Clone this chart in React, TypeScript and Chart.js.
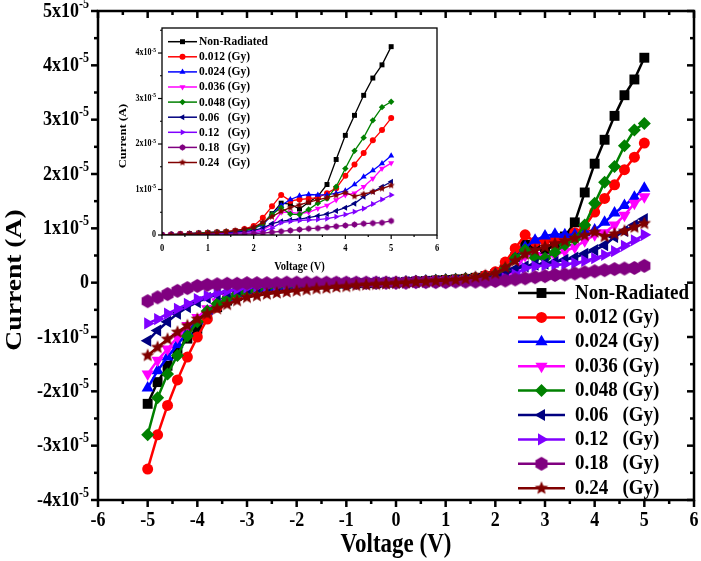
import React, { useEffect, useRef } from 'react';
import { Chart, registerables } from 'chart.js';
import { drawPoint } from 'chart.js/helpers';

Chart.register(...registerables);

const SERIF = '"Liberation Serif", "Times New Roman", Times, serif';

// Voltage (V)
const VOLTAGE = [
  -5, -4.8, -4.6, -4.4, -4.2, -4, -3.8, -3.6, -3.4, -3.2, -3, -2.8, -2.6, -2.4, -2.2, -2, -1.8, -1.6, -1.4, -1.2,
  -1, -0.8, -0.6, -0.4, -0.2, 0, 0.2, 0.4, 0.6, 0.8, 1, 1.2, 1.4, 1.6, 1.8, 2, 2.2, 2.4, 2.6, 2.8,
  3, 3.2, 3.4, 3.6, 3.8, 4, 4.2, 4.4, 4.6, 4.8, 5,
];

// Current, in units of 1x10^-5 A
const NON_RADIATED = [
  -2.23, -1.83, -1.53, -1.25, -1.03, -0.85, -0.62, -0.45, -0.33, -0.24, -0.18, -0.13, -0.10, -0.08, -0.06, -0.05, -0.04, -0.03, -0.03, -0.02,
  -0.02, -0.01, -0.01, -0.01, 0.00, 0.00, 0.01, 0.02, 0.03, 0.04, 0.05, 0.06, 0.07, 0.09, 0.12, 0.16, 0.25, 0.47, 0.70, 0.68,
  0.57, 0.72, 0.85, 1.11, 1.66, 2.19, 2.63, 3.07, 3.45, 3.74, 4.14,
];
const GY_0012 = [
  -3.43, -2.80, -2.26, -1.79, -1.37, -1.00, -0.67, -0.45, -0.32, -0.23, -0.17, -0.13, -0.10, -0.08, -0.06, -0.05, -0.04, -0.03, -0.03, -0.02,
  -0.02, -0.01, -0.01, -0.01, 0.00, 0.00, 0.01, 0.02, 0.03, 0.04, 0.05, 0.06, 0.07, 0.09, 0.13, 0.20, 0.38, 0.63, 0.88, 0.75,
  0.78, 0.80, 0.82, 0.92, 1.03, 1.30, 1.55, 1.80, 2.08, 2.31, 2.57,
];
const GY_0024 = [
  -1.94, -1.62, -1.37, -1.14, -0.91, -0.70, -0.52, -0.38, -0.28, -0.20, -0.15, -0.11, -0.09, -0.07, -0.05, -0.04, -0.03, -0.03, -0.02, -0.02,
  -0.01, -0.01, -0.01, 0.00, 0.00, 0.00, 0.01, 0.02, 0.03, 0.04, 0.05, 0.06, 0.07, 0.08, 0.11, 0.15, 0.22, 0.45, 0.65, 0.78,
  0.86, 0.89, 0.88, 0.88, 0.92, 0.97, 1.11, 1.28, 1.42, 1.57, 1.74,
];
const GY_0036 = [
  -1.68, -1.43, -1.22, -1.00, -0.79, -0.64, -0.48, -0.35, -0.26, -0.19, -0.14, -0.10, -0.08, -0.06, -0.05, -0.04, -0.03, -0.03, -0.02, -0.02,
  -0.01, -0.01, -0.01, 0.00, 0.00, 0.00, 0.01, 0.01, 0.02, 0.03, 0.03, 0.04, 0.05, 0.06, 0.07, 0.08, 0.12, 0.22, 0.50, 0.50,
  0.47, 0.50, 0.58, 0.65, 0.77, 0.88, 0.92, 1.06, 1.24, 1.46, 1.58,
];
const GY_0048 = [
  -2.80, -2.12, -1.68, -1.34, -0.98, -0.72, -0.52, -0.39, -0.29, -0.21, -0.16, -0.12, -0.09, -0.07, -0.06, -0.05, -0.04, -0.03, -0.03, -0.02,
  -0.02, -0.01, -0.01, -0.01, 0.00, 0.00, 0.01, 0.02, 0.03, 0.04, 0.05, 0.06, 0.07, 0.08, 0.10, 0.14, 0.25, 0.45, 0.60, 0.46,
  0.45, 0.56, 0.70, 0.80, 1.06, 1.46, 1.85, 2.14, 2.52, 2.81, 2.93,
];
const GY_006 = [
  -1.07, -0.88, -0.72, -0.57, -0.45, -0.36, -0.28, -0.22, -0.17, -0.13, -0.10, -0.08, -0.06, -0.05, -0.04, -0.03, -0.03, -0.02, -0.02, -0.01,
  -0.01, -0.01, -0.01, 0.00, 0.00, 0.00, 0.01, 0.01, 0.02, 0.03, 0.03, 0.04, 0.05, 0.06, 0.08, 0.10, 0.15, 0.25, 0.30, 0.33,
  0.35, 0.38, 0.42, 0.46, 0.53, 0.60, 0.69, 0.84, 0.95, 1.06, 1.17,
];
const GY_012 = [
  -0.75, -0.67, -0.57, -0.48, -0.39, -0.30, -0.24, -0.19, -0.15, -0.12, -0.09, -0.07, -0.06, -0.05, -0.04, -0.03, -0.03, -0.02, -0.02, -0.01,
  -0.01, -0.01, -0.01, 0.00, 0.00, 0.00, 0.00, 0.01, 0.01, 0.02, 0.02, 0.03, 0.03, 0.04, 0.04, 0.05, 0.08, 0.15, 0.27, 0.30,
  0.32, 0.33, 0.34, 0.36, 0.40, 0.45, 0.51, 0.58, 0.68, 0.78, 0.88,
];
const GY_018 = [
  -0.34, -0.27, -0.21, -0.15, -0.10, -0.06, -0.04, -0.03, -0.02, -0.02, -0.01, -0.01, -0.01, -0.01, 0.00, 0.00, 0.00, 0.00, 0.00, 0.00,
  0.00, 0.00, 0.00, 0.00, 0.00, 0.00, 0.00, 0.01, 0.01, 0.01, 0.01, 0.02, 0.02, 0.02, 0.02, 0.03, 0.04, 0.06, 0.08, 0.10,
  0.12, 0.14, 0.15, 0.17, 0.19, 0.21, 0.23, 0.25, 0.26, 0.27, 0.31,
];
const GY_024 = [
  -1.34, -1.19, -1.04, -0.91, -0.79, -0.67, -0.57, -0.48, -0.40, -0.33, -0.27, -0.24, -0.21, -0.19, -0.17, -0.15, -0.13, -0.11, -0.10, -0.08,
  -0.07, -0.05, -0.04, -0.03, -0.02, -0.01, 0.00, 0.01, 0.02, 0.03, 0.04, 0.05, 0.07, 0.10, 0.13, 0.17, 0.28, 0.40, 0.52, 0.60,
  0.66, 0.72, 0.77, 0.82, 0.87, 0.93, 0.85, 0.90, 0.95, 1.02, 1.09,
];

const SERIES_LABELS = [
  'Non-Radiated', '0.012 (Gy)', '0.024 (Gy)', '0.036 (Gy)', '0.048 (Gy)',
  '0.06   (Gy)', '0.12   (Gy)', '0.18   (Gy)', '0.24   (Gy)',
];
const SERIES_VALUES = [NON_RADIATED, GY_0012, GY_0024, GY_0036, GY_0048, GY_006, GY_012, GY_018, GY_024];
const SERIES_COLORS = ['#000000', '#FF0000', '#0000FF', '#FF00FF', '#008000', '#000080', '#8000FF', '#800080', '#800000'];
const MARKERS = ['rect', 'circle', 'triangle', 'triangle', 'rectRot', 'triangle', 'triangle', 'hexagon', 'star5'];
const ROTATIONS = [0, 0, 0, 180, 0, 270, 90, 0, 0];
const MAIN_RADII = [7, 5.5, 7, 7, 6.5, 7, 7, 7, 7];
const INSET_RADII = [3.5, 3, 3.5, 3.5, 3.2, 3.5, 3.5, 3.2, 3.8];

// Tick labels
const MAIN_X_TICKS = [-6, -5, -4, -3, -2, -1, 0, 1, 2, 3, 4, 5, 6];
const MAIN_Y_TICKS = [-4, -3, -2, -1, 0, 1, 2, 3, 4, 5];
const INSET_X_TICKS = [0, 1, 2, 3, 4, 5, 6];
const INSET_Y_TICKS = [0, 1, 2, 3, 4];
const POWER_BASE = 'x10';
const POWER_EXP = '-5';

function shapeCanvas(kind: string, r: number, color: string) {
  const size = Math.ceil(2 * r + 2);
  const c = document.createElement('canvas');
  c.width = size;
  c.height = size;
  const g = c.getContext('2d')!;
  g.fillStyle = color;
  g.beginPath();
  const cx = size / 2;
  const cy = size / 2;
  if (kind === 'hexagon') {
    for (let k = 0; k < 6; k++) {
      const a = -Math.PI / 2 + (k * Math.PI) / 3;
      const px = cx + r * Math.cos(a);
      const py = cy + r * Math.sin(a);
      if (k === 0) g.moveTo(px, py);
      else g.lineTo(px, py);
    }
  } else {
    for (let k = 0; k < 10; k++) {
      const rr = k % 2 ? r * 0.45 : r;
      const a = -Math.PI / 2 + (k * Math.PI) / 5;
      const px = cx + rr * Math.cos(a);
      const py = cy + rr * Math.sin(a);
      if (k === 0) g.moveTo(px, py);
      else g.lineTo(px, py);
    }
  }
  g.closePath();
  g.fill();
  return c;
}

function buildDatasets(startIndex: number, big: boolean) {
  return SERIES_VALUES.map((vals, i) => {
    const marker = MARKERS[i];
    const r = big ? MAIN_RADII[i] : INSET_RADII[i];
    const custom = marker === 'hexagon' || marker === 'star5';
    const style: any = custom ? shapeCanvas(marker, r, SERIES_COLORS[i]) : marker;
    return {
      label: SERIES_LABELS[i],
      data: VOLTAGE.slice(startIndex).map((v, k) => ({ x: v, y: vals[startIndex + k] })),
      borderColor: SERIES_COLORS[i],
      backgroundColor: SERIES_COLORS[i],
      pointBackgroundColor: SERIES_COLORS[i],
      pointBorderColor: SERIES_COLORS[i],
      pointBorderWidth: 0,
      pointStyle: style,
      pointRotation: ROTATIONS[i],
      pointRadius: r,
      borderWidth: big ? 2.5 : 1.3,
      tension: 0,
      fill: false,
      order: SERIES_VALUES.length - i,
    };
  });
}

function txt(ctx: CanvasRenderingContext2D, s: string, x: number, y: number, font: string, align: CanvasTextAlign, sx = 1, sy = 1, rot = 0) {
  ctx.save();
  ctx.translate(x, y);
  if (rot) ctx.rotate(rot);
  ctx.scale(sx, sy);
  ctx.font = font;
  ctx.textAlign = align;
  ctx.textBaseline = 'middle';
  ctx.fillStyle = '#000';
  ctx.fillText(s, 0, 0);
  ctx.restore();
}

function powerLabel(ctx: CanvasRenderingContext2D, v: number, xRight: number, y: number, baseSize: number, supSize: number, sy: number) {
  if (v === 0) {
    txt(ctx, '0', xRight, y, `bold ${baseSize}px ${SERIF}`, 'right', 1, sy);
    return;
  }
  const base = `${v}${POWER_BASE}`;
  ctx.save();
  ctx.font = `bold ${supSize}px ${SERIF}`;
  const ws = ctx.measureText(POWER_EXP).width;
  ctx.restore();
  txt(ctx, base, xRight - ws, y, `bold ${baseSize}px ${SERIF}`, 'right', 1, sy);
  txt(ctx, POWER_EXP, xRight, y - baseSize * 0.32 * sy, `bold ${supSize}px ${SERIF}`, 'right', 1, sy);
}

const framePlugin = {
  id: 'frame',
  afterDatasetsDraw(chart: any, _args: any, o: any) {
    const { ctx, chartArea: a, scales } = chart;
    const x = scales.x;
    const y = scales.y;
    ctx.save();
    ctx.strokeStyle = '#000';
    ctx.lineCap = 'butt';
    const line = (x1: number, y1: number, x2: number, y2: number, w: number) => {
      ctx.lineWidth = w;
      ctx.beginPath();
      ctx.moveTo(x1, y1);
      ctx.lineTo(x2, y2);
      ctx.stroke();
    };
    const isMajor = (v: number, step: number) => Math.abs(v / step - Math.round(v / step)) < 1e-6;
    for (let v = x.min; v <= x.max + 1e-9; v += o.xMinor) {
      const px = x.getPixelForValue(v);
      const len = isMajor(v, o.xMajor) ? o.major : o.minor;
      line(px, a.bottom, px, a.bottom + len, o.tw);
      if (o.mirror) line(px, a.top, px, a.top + len, o.tw);
    }
    for (let v = y.min; v <= y.max + 1e-9; v += o.yMinor) {
      const py = y.getPixelForValue(v);
      const len = isMajor(v, o.yMajor) ? o.major : o.minor;
      line(a.left, py, a.left - len, py, o.tw);
      if (o.mirror) line(a.right, py, a.right - len, py, o.tw);
    }
    ctx.lineWidth = o.lw;
    ctx.strokeRect(a.left, a.top, a.right - a.left, a.bottom - a.top);
    ctx.restore();
  },
};

const textPlugin = {
  id: 'axisText',
  afterDraw(chart: any, _args: any, o: any) {
    const { ctx, chartArea: a, scales } = chart;
    const x = scales.x;
    const y = scales.y;
    o.xTicks.forEach((v: number) => {
      txt(ctx, String(v), x.getPixelForValue(v), a.bottom + o.xLabelGap, `bold ${o.xLabelSize}px ${SERIF}`, 'center', 1, o.sy);
    });
    o.yTicks.forEach((v: number) => {
      powerLabel(ctx, v, a.left - o.yLabelGap, y.getPixelForValue(v), o.yLabelSize, o.ySupSize, o.sy);
    });
    txt(ctx, o.xTitle, (a.left + a.right) / 2, o.xTitleY, `bold ${o.titleSize}px ${SERIF}`, 'center', 1, o.sy);
    txt(ctx, o.yTitle, o.yTitleX, o.yTitleY, `bold ${o.titleSize}px ${SERIF}`, 'center', o.sy, 1, -Math.PI / 2);
  },
};

const legendPlugin = {
  id: 'seriesLegend',
  afterDraw(chart: any, _args: any, o: any) {
    const ctx = chart.ctx;
    ctx.save();
    chart.data.datasets.forEach((ds: any, i: number) => {
      const yy = o.y + i * o.rowH;
      ctx.strokeStyle = ds.borderColor;
      ctx.lineWidth = o.lineWidth;
      ctx.beginPath();
      ctx.moveTo(o.x, yy);
      ctx.lineTo(o.x + o.lineLen, yy);
      ctx.stroke();
      ctx.fillStyle = ds.pointBackgroundColor;
      ctx.strokeStyle = ds.pointBorderColor;
      drawPoint(ctx, { pointStyle: ds.pointStyle, rotation: ds.pointRotation, radius: ds.pointRadius, borderWidth: 0 } as any, o.x + o.lineLen / 2, yy);
      txt(ctx, ds.label, o.textX, yy, o.font, 'left', 1, o.sy);
    });
    ctx.restore();
  },
};

function hiddenScale(min: number, max: number, size: number, horizontal: boolean): any {
  return {
    type: 'linear',
    min,
    max,
    grid: { display: false, drawTicks: false },
    border: { display: false },
    ticks: { display: false, stepSize: 1 },
    title: { display: false },
    afterFit: (s: any) => {
      if (horizontal) s.height = size;
      else s.width = size;
    },
  };
}

function mainConfig(): any {
  return {
    type: 'line',
    data: { datasets: buildDatasets(0, true) },
    plugins: [framePlugin, textPlugin, legendPlugin],
    options: {
      responsive: false,
      animation: false,
      events: [],
      layout: { padding: { top: 11, right: 2, left: 0, bottom: 0 } },
      plugins: {
        legend: { display: false },
        tooltip: { enabled: false },
        frame: { lw: 2.5, tw: 2.5, major: 7, minor: 4, xMajor: 1, xMinor: 0.5, yMajor: 1, yMinor: 0.5, mirror: true },
        axisText: {
          xTicks: MAIN_X_TICKS, yTicks: MAIN_Y_TICKS, sy: 1.2,
          xLabelGap: 20, xLabelSize: 18, yLabelGap: 9, yLabelSize: 18, ySupSize: 12,
          xTitle: 'Voltage (V)', yTitle: 'Current (A)', titleSize: 23, xTitleY: 545, yTitleX: 15, yTitleY: 280,
        },
        seriesLegend: { x: 518, y: 293, rowH: 24.4, lineLen: 47, lineWidth: 2.5, textX: 575, font: `bold 19px ${SERIF}`, sy: 1.15 },
      },
      scales: {
        x: hiddenScale(-6, 6, 61, true),
        y: hiddenScale(-4, 5, 98, false),
      },
    },
  };
}

function insetConfig(): any {
  return {
    type: 'line',
    data: { datasets: buildDatasets(25, false) },
    plugins: [framePlugin, textPlugin, legendPlugin],
    options: {
      responsive: false,
      animation: false,
      events: [],
      layout: { padding: { top: 8, right: 8, left: 0, bottom: 0 } },
      plugins: {
        legend: { display: false },
        tooltip: { enabled: false },
        frame: { lw: 1.3, tw: 1.2, major: 4, minor: 2, xMajor: 1, xMinor: 0.5, yMajor: 1, yMinor: 0.5, mirror: false },
        axisText: {
          xTicks: INSET_X_TICKS, yTicks: INSET_Y_TICKS, sy: 1.2,
          xLabelGap: 13, xLabelSize: 8.5, yLabelGap: 6, yLabelSize: 8, ySupSize: 5.5,
          xTitle: 'Voltage (V)', yTitle: 'Current (A)', titleSize: 10.5, xTitleY: 246.5, yTitleX: 23, yTitleY: 116,
        },
        seriesLegend: { x: 68, y: 21.7, rowH: 15.1, lineLen: 29, lineWidth: 1.5, textX: 99, font: `bold 11.5px ${SERIF}`, sy: 1.15 },
      },
      scales: {
        x: hiddenScale(0, 6, 45, true),
        y: hiddenScale(0, 4.55, 62, false),
      },
    },
  };
}

export default function App() {
  const mainRef = useRef<HTMLCanvasElement>(null);
  const insetRef = useRef<HTMLCanvasElement>(null);
  useEffect(() => {
    if (!mainRef.current || !insetRef.current) return;
    const main = new Chart(mainRef.current, mainConfig());
    const inset = new Chart(insetRef.current, insetConfig());
    return () => {
      main.destroy();
      inset.destroy();
    };
  }, []);
  return (
    <div style={{ position: 'fixed', left: 0, top: 0, width: 701, height: 561, background: '#fff', overflow: 'hidden' }}>
      <canvas ref={mainRef} width={701} height={561} style={{ position: 'absolute', left: 0, top: 0 }} />
      <canvas ref={insetRef} width={345} height={260} style={{ position: 'absolute', left: 100, top: 20 }} />
    </div>
  );
}
